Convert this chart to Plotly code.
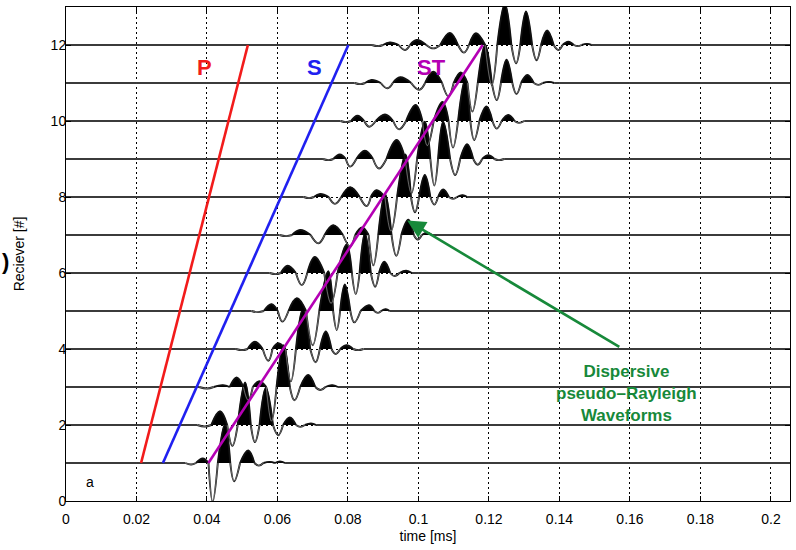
import plotly.graph_objects as go

# ---------------- data ----------------
# extrema (time in ms, amplitude in receiver units) of each receiver's wiggle trace
T1 = [0.0355, 0.0388, 0.0416, 0.0451, 0.0477, 0.0517, 0.0547, 0.0578, 0.0607]
A1 = [-0.04, 0.12, -1.02, 1.02, -0.48, 0.33, -0.07, 0.03, 0.04]
T2 = [0.0394, 0.0437, 0.0472, 0.0508, 0.0536, 0.0567, 0.0602, 0.0635, 0.0665, 0.0695]
A2 = [-0.04, 0.36, -0.55, 1.12, -0.45, 0.98, -0.27, 0.20, -0.05, 0.04]
T3 = [0.0400, 0.0445, 0.0484, 0.0517, 0.0548, 0.0583, 0.0617, 0.0648, 0.0687, 0.0722, 0.0755]
A3 = [-0.04, 0.05, 0.25, -0.35, 0.15, -0.90, 1.10, -0.35, 0.32, -0.08, 0.05]
T4 = [0.0500, 0.0536, 0.0574, 0.0602, 0.0638, 0.0672, 0.0708, 0.0737, 0.0765, 0.0796, 0.0828]
A4 = [-0.03, 0.19, -0.31, 0.15, -0.85, 1.05, -0.35, 0.46, -0.13, 0.10, -0.03]
T5 = [0.0545, 0.0583, 0.0614, 0.0655, 0.0700, 0.0744, 0.0768, 0.0791, 0.0818, 0.0860, 0.0885, 0.0907]
A5 = [-0.03, 0.18, -0.28, 0.34, -0.90, 1.05, -0.50, 0.70, -0.30, 0.15, -0.05, 0.05]
T6 = [0.0595, 0.0629, 0.0669, 0.0706, 0.0752, 0.0796, 0.0822, 0.0848, 0.0877, 0.0903, 0.0932, 0.0965]
A6 = [-0.03, 0.19, -0.32, 0.42, -0.80, 0.75, -0.55, 1.05, -0.36, 0.30, -0.08, 0.06]
T7 = [0.0625, 0.0664, 0.0716, 0.0758, 0.0806, 0.0840, 0.0872, 0.0905, 0.0937, 0.0971, 0.0998, 0.1025]
A7 = [-0.03, 0.13, -0.22, 0.26, -0.30, 0.20, -0.80, 1.08, -0.55, 0.40, -0.12, 0.06]
T8 = [0.0690, 0.0721, 0.0763, 0.0806, 0.0853, 0.0881, 0.0922, 0.0963, 0.0990, 0.1018, 0.1045, 0.1070, 0.1098, 0.1125]
A8 = [-0.03, 0.08, -0.18, 0.26, -0.24, 0.18, -0.90, 1.12, -0.40, 0.58, -0.20, 0.20, -0.05, 0.05]
T9 = [0.0745, 0.0777, 0.0806, 0.0848, 0.0888, 0.0938, 0.0980, 0.1018, 0.1045, 0.1070, 0.1104, 0.1138, 0.1168, 0.1198, 0.1228]
A9 = [-0.03, 0.12, -0.20, 0.22, -0.25, 0.50, -0.90, 0.98, -0.70, 0.98, -0.42, 0.39, -0.15, 0.10, -0.03]
T10 = [0.0795, 0.0827, 0.0860, 0.0905, 0.0945, 0.0992, 0.1025, 0.1068, 0.1098, 0.1132, 0.1158, 0.1193, 0.1222, 0.1255, 0.1285]
A10 = [-0.03, 0.14, -0.15, 0.17, -0.22, 0.42, -0.65, 0.50, -0.70, 1.08, -0.50, 0.38, -0.20, 0.16, -0.05]
T11 = [0.0835, 0.0867, 0.0912, 0.0948, 0.1002, 0.1042, 0.1085, 0.1120, 0.1153, 0.1189, 0.1222, 0.1250, 0.1278, 0.1309, 0.1340, 0.1370]
A11 = [-0.03, 0.08, -0.14, 0.15, -0.18, 0.30, -0.35, 0.28, -0.75, 1.00, -0.45, 0.61, -0.29, 0.21, -0.05, 0.03]
T12 = [0.0885, 0.0919, 0.0962, 0.0995, 0.1042, 0.1089, 0.1129, 0.1163, 0.1208, 0.1245, 0.1277, 0.1305, 0.1335, 0.1365, 0.1397, 0.1425, 0.1452, 0.1478]
A12 = [-0.03, 0.07, -0.13, 0.13, -0.09, 0.32, -0.20, 0.31, -1.05, 1.08, -0.48, 0.88, -0.40, 0.38, -0.13, 0.09, -0.03, 0.03]

RECEIVERS = [1, 2, 3, 4, 5, 6, 7, 8, 9, 10, 11, 12]
TIMES = [T1, T2, T3, T4, T5, T6, T7, T8, T9, T10, T11, T12]
AMPS = [A1, A2, A3, A4, A5, A6, A7, A8, A9, A10, A11, A12]

# move-out lines (time at receiver 1 and receiver 12)
P_T = [0.0213, 0.0516]
S_T = [0.0275, 0.0801]
ST_T = [0.0404, 0.1182]
LINE_R = [1, 12]

X_TICKS = [0, 0.02, 0.04, 0.06, 0.08, 0.1, 0.12, 0.14, 0.16, 0.18, 0.2]
X_LABELS = ["0", "0.02", "0.04", "0.06", "0.08", "0.1", "0.12", "0.14", "0.16", "0.18", "0.2"]
Y_TICKS = [0, 2, 4, 6, 8, 10, 12]
X_MAX = 0.2054
Y_MAX = 13

FONT = "Liberation Sans, Arial, Helvetica, sans-serif"
SMOOTH = 1.15
POS_SHARE = 0.58   # positive half-cycles drawn slightly wider than negative ones


def half_cycles(rec, ts, amps):
    """One 3-point spline hump per extremum, between neighbouring zero crossings."""
    n = len(ts)
    zeros = [ts[0] - (ts[1] - ts[0]) / 2]
    for i in range(n - 1):
        w = POS_SHARE if amps[i] > 0 else 1 - POS_SHARE
        if (amps[i] > 0) == (amps[i + 1] > 0):
            w = 0.5
        zeros.append(ts[i] + w * (ts[i + 1] - ts[i]))
    zeros.append(ts[-1] + (ts[-1] - ts[-2]) / 2)
    line_x, line_y = [0.0, zeros[0], None], [rec, rec, None]
    core_x, core_y = [0.0, zeros[0], None], [rec, rec, None]
    pos_x, pos_y = [], []
    for i, (t, a) in enumerate(zip(ts, amps)):
        sx = [zeros[i], t, zeros[i + 1], None]
        sy = [rec, rec + a, rec, None]
        line_x += sx
        line_y += sy
        if a > 0:
            pos_x += sx
            pos_y += sy
        else:
            core_x += sx
            core_y += sy
    line_x += [zeros[-1], X_MAX + 0.001]
    line_y += [rec, rec]
    core_x += [zeros[-1], X_MAX + 0.001]
    core_y += [rec, rec]
    return line_x, line_y, core_x, core_y, pos_x, pos_y


fig = go.Figure()
for rec, ts, amps in zip(RECEIVERS, TIMES, AMPS):
    lx, ly, cx, cy, fx, fy = half_cycles(rec, ts, amps)
    fig.add_trace(go.Scatter(x=fx, y=fy, mode="lines", fill="toself",
                             fillcolor="black",
                             line=dict(color="black", width=0.6, shape="spline", smoothing=SMOOTH),
                             hoverinfo="skip", showlegend=False))
    fig.add_trace(go.Scatter(x=lx, y=ly, mode="lines",
                             line=dict(color="#111111", width=1.9, shape="spline", smoothing=SMOOTH),
                             hoverinfo="skip", showlegend=False))
    fig.add_trace(go.Scatter(x=cx, y=cy, mode="lines",
                             line=dict(color="#d0d0d0", width=0.45, shape="spline", smoothing=SMOOTH),
                             hoverinfo="skip", showlegend=False))

for tt, col in [(P_T, "#f21b1b"), (S_T, "#2020f0"), (ST_T, "#b400b4")]:
    fig.add_trace(go.Scatter(x=tt, y=LINE_R, mode="lines",
                             line=dict(color=col, width=2.6),
                             hoverinfo="skip", showlegend=False))

annotations = [
    dict(x=0.0394, y=11.42, text="<b>P</b>", font=dict(size=22, color="#f21b1b", family=FONT)),
    dict(x=0.0704, y=11.42, text="<b>S</b>", font=dict(size=22, color="#2020f0", family=FONT)),
    dict(x=0.1038, y=11.42, text="<b>ST</b>", font=dict(size=22, color="#b400b4", family=FONT)),
    dict(x=0.1589, y=2.84, text="<b>Dispersive<br>pseudo\u2013Rayleigh<br>Waveforms</b>",
         font=dict(size=17, color="#17893a", family=FONT), align="center"),
    dict(x=0.0068, y=0.5, text="a", font=dict(size=14, color="black", family=FONT)),
]
for a in annotations:
    a.update(xref="x", yref="y", showarrow=False)
fig.update_layout(annotations=annotations)

# clipped glyph at the far left edge of the reference image
fig.add_annotation(x=-0.091, y=0.484, xref="paper", yref="paper", showarrow=False,
                   text="<b>)</b>", font=dict(size=22, color="black", family=FONT))

fig.add_annotation(x=0.0968, y=7.38, ax=0.1574, ay=4.03, xref="x", yref="y",
                   axref="x", ayref="y", showarrow=True, arrowhead=2, arrowsize=1.4,
                   arrowwidth=2.6, arrowcolor="#17893a", text="")

fig.update_layout(
    width=796, height=550,
    margin=dict(l=66, r=6, t=7, b=49),
    paper_bgcolor="white", plot_bgcolor="white",
    font=dict(family=FONT, size=14, color="black"),
    showlegend=False,
)
fig.update_xaxes(range=[0, X_MAX], tickvals=X_TICKS, ticktext=X_LABELS,
                 showgrid=True, gridcolor="black", griddash="2px,3px", gridwidth=1,
                 zeroline=False, showline=True, linecolor="black", linewidth=1,
                 mirror="ticks", ticks="inside", ticklen=5, tickcolor="black",
                 ticklabelstandoff=5,
                 title=dict(text="time [ms]", font=dict(size=14), standoff=5),
                 tickfont=dict(size=14))
fig.update_yaxes(range=[0, Y_MAX], tickvals=Y_TICKS,
                 showgrid=True, gridcolor="black", griddash="2px,3px", gridwidth=1,
                 zeroline=False, showline=True, linecolor="black", linewidth=1,
                 mirror="ticks", ticks="inside", ticklen=5, tickcolor="black",
                 ticklabelstandoff=-4,
                 title=dict(text="Reciever [#]", font=dict(size=14), standoff=22),
                 tickfont=dict(size=14))

fig.write_html("out.html", config={"displayModeBar": False},
               post_script="document.body.style.margin='0px';")
